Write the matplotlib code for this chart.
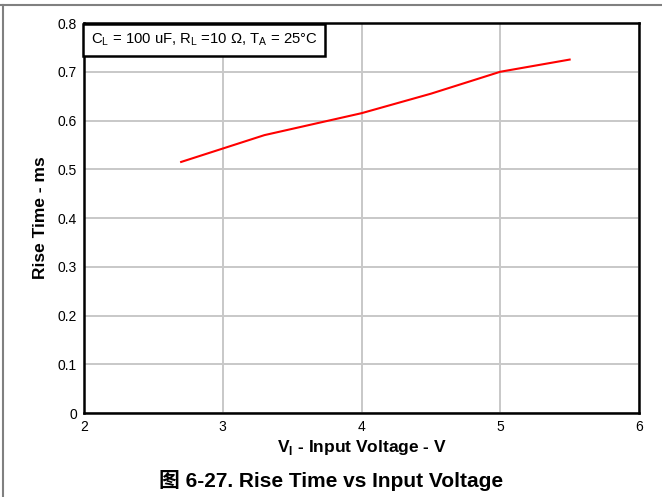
import matplotlib
matplotlib.use("Agg")
import matplotlib.pyplot as plt
from matplotlib.lines import Line2D

# rise time vs input voltage
v_in = [2.7, 3.3, 4.0, 4.5, 5.0, 5.5]
rise_ms = [0.515, 0.57, 0.615, 0.655, 0.70, 0.725]

x_ticks = [2, 3, 4, 5, 6]
y_ticks = [0, 0.1, 0.2, 0.3, 0.4, 0.5, 0.6, 0.7, 0.8]
y_labels = ["0", "0.1", "0.2", "0.3", "0.4", "0.5", "0.6", "0.7", "0.8"]

plt.rcParams['font.family'] = ['Liberation Sans', 'Noto Sans CJK SC', 'DejaVu Sans']
plt.rcParams['mathtext.fontset'] = 'custom'
plt.rcParams['mathtext.rm'] = 'Liberation Sans'
plt.rcParams['mathtext.bf'] = 'Liberation Sans:bold'

fig = plt.figure(figsize=(6.62, 4.97), dpi=100)
ax = fig.add_axes([0.1269, 0.169, 0.8384, 0.7847])

ax.plot(v_in, rise_ms, color='#ff0000', lw=1.5, zorder=3)

ax.set_xlim(2, 6)
ax.set_ylim(0, 0.8)
ax.set_xticks(x_ticks)
ax.set_xticklabels([str(t) for t in x_ticks])
ax.set_yticks(y_ticks)
ax.set_yticklabels(y_labels)
ax.tick_params(length=0, labelsize=10, pad=5)
ax.grid(True, color='#c8c8c8', lw=1.4)
ax.set_axisbelow(True)
for s in ax.spines.values():
    s.set_linewidth(1.8)
    s.set_color('black')

ax.set_xlabel(r'V$_\mathregular{I}$ - Input Voltage - V', fontsize=12.5,
              fontweight='bold', labelpad=3)
ax.set_ylabel('Rise Time - ms', fontsize=12.5, fontweight='bold', labelpad=7)

ax.text(0.012, 0.957,
        r'C$_\mathregular{L}$ = 100 uF, R$_\mathregular{L}$ =10 $\Omega$, T$_\mathregular{A}$ = 25°C',
        transform=ax.transAxes, fontsize=10.7, va='center', ha='left',
        bbox=dict(boxstyle='square,pad=0.5', fc='white', ec='black', lw=1.8))

fig.text(0.5, 0.033, '图 6-27. Rise Time vs Input Voltage', ha='center', va='center',
         fontsize=15, fontweight='bold')

# page frame lines
fig.add_artist(Line2D([0.0045, 0.0045], [0, 0.99], color='#808080', lw=1.5,
                      transform=fig.transFigure))
fig.add_artist(Line2D([0, 1], [0.99, 0.99], color='#808080', lw=1.5,
                      transform=fig.transFigure))

fig.savefig('out.png', dpi=100)
